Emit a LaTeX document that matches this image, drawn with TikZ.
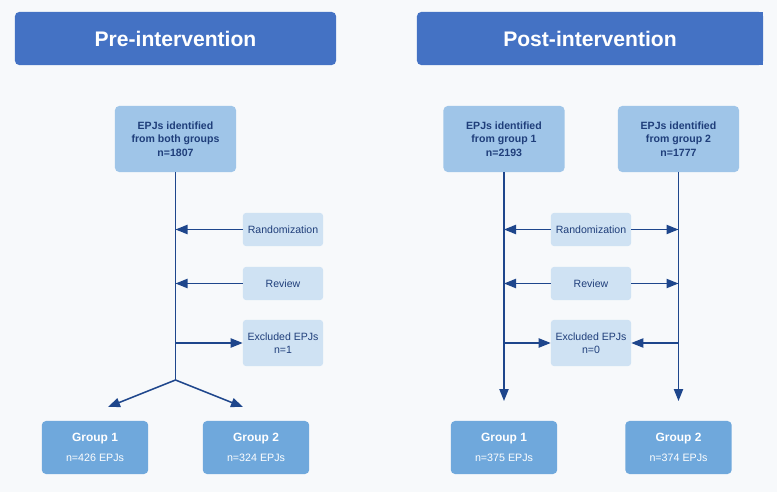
\documentclass[tikz,border=0pt]{standalone}
\usepackage{fontspec}
\setmainfont{Liberation Sans}
\usetikzlibrary{arrows.meta}
\definecolor{pagebg}{RGB}{247,249,251}
\definecolor{headblue}{RGB}{68,114,196}
\definecolor{srcblue}{RGB}{159,197,232}
\definecolor{stepblue}{RGB}{207,226,243}
\definecolor{groupblue}{RGB}{111,168,220}
\definecolor{inkblue}{RGB}{31,62,122}
\definecolor{lineblue}{RGB}{30,70,140}
\tikzset{
    headbox/.style={rectangle, rounded corners=3pt, fill=headblue, text=white, font=\fontsize{15}{18}\selectfont\bfseries, minimum height=1.325cm, inner sep=0pt, align=center},
    srcbox/.style={rectangle, rounded corners=3pt, fill=srcblue, text=inkblue, font=\fontsize{7.5}{9.6}\selectfont\bfseries, minimum width=3.025cm, minimum height=1.65cm, inner sep=0pt, align=center},
    stepbox/.style={rectangle, rounded corners=2pt, fill=stepblue, text=inkblue, font=\fontsize{7.5}{9.3}\selectfont, minimum width=2cm, minimum height=0.825cm, inner sep=0pt, align=center},
    groupbox/.style={rectangle, rounded corners=3pt, fill=groupblue, text=white, minimum width=2.66cm, minimum height=1.325cm, inner sep=0pt, align=center},
}

\begin{document}
\begin{tikzpicture}[
    x=0.025cm, y=-0.025cm,
    arrow/.style={-{Triangle[length=3mm, width=2.3mm]}, lineblue, line width=1.1pt},
    flow/.style={lineblue, line width=1.1pt}
]

% page
\fill[pagebg] (0,0) rectangle (777,492);

% Headers
\node[headbox, minimum width=8.025cm] (pre-head) at (175.5,38.5) {Pre-intervention};
\node[headbox, minimum width=8.65cm] (post-head) at (590,38.5) {};
% right side of the post header runs off square
\fill[headblue] (post-head.north) rectangle (post-head.south east);
\node[text=white, font=\fontsize{15}{18}\selectfont\bfseries, inner sep=0pt] (post-title) at (post-head.center) {Post-intervention};

% Pre-intervention boxes
\node[srcbox] (pre-src) at (175.5,139) {EPJs identified\\from both groups\\n=1807};
\node[stepbox] (pre-rand) at (283,229.5) {Randomization};
\node[stepbox] (pre-rev) at (283,283.5) {Review};
\node[stepbox, minimum height=1.15cm] (pre-excl) at (283,343) {Excluded EPJs\\n=1};
\node[groupbox] (pre-g1) at (95,447.5) {\textbf{\fontsize{8.5}{10}\selectfont Group 1}\\[2pt]{\fontsize{7.6}{10}\selectfont n=426 EPJs}};
\node[groupbox] (pre-g2) at (256,447.5) {\textbf{\fontsize{8.5}{10}\selectfont Group 2}\\[2pt]{\fontsize{7.6}{10}\selectfont n=324 EPJs}};

% Post-intervention boxes
\node[srcbox] (post-src1) at (504,139) {EPJs identified\\from group 1\\n=2193};
\node[srcbox] (post-src2) at (678.5,139) {EPJs identified\\from group 2\\n=1777};
\node[stepbox] (post-rand) at (591,229.5) {Randomization};
\node[stepbox] (post-rev) at (591,283.5) {Review};
\node[stepbox, minimum height=1.15cm] (post-excl) at (591,343) {Excluded EPJs\\n=0};
\node[groupbox] (post-g1) at (504,447.5) {\textbf{\fontsize{8.5}{10}\selectfont Group 1}\\[2pt]{\fontsize{7.6}{10}\selectfont n=375 EPJs}};
\node[groupbox] (post-g2) at (678.5,447.5) {\textbf{\fontsize{8.5}{10}\selectfont Group 2}\\[2pt]{\fontsize{7.6}{10}\selectfont n=374 EPJs}};

% Pre-intervention flow
\coordinate (pre-split) at (pre-src.south |- 0,380);
\coordinate (pre-tip1) at (108,407);
\coordinate (pre-tip2) at (243,407);
\draw[flow] (pre-src.south) -- (pre-split);
\draw[arrow] (pre-rand.west) -- (pre-rand.west -| pre-src.south);
\draw[arrow] (pre-rev.west) -- (pre-rev.west -| pre-src.south);
\draw[arrow] (pre-excl.west -| pre-src.south) -- (pre-excl.west);
\draw[arrow] (pre-split) -- (pre-tip1);
\draw[arrow] (pre-split) -- (pre-tip2);

% Post-intervention flow
\draw[arrow] (post-src1.south) -- ([yshift=14]post-g1.north);
\draw[arrow] (post-src2.south) -- ([yshift=14]post-g2.north);
\draw[arrow] (post-rand.west) -- (post-rand.west -| post-src1.south);
\draw[arrow] (post-rand.east) -- (post-rand.east -| post-src2.south);
\draw[arrow] (post-rev.west) -- (post-rev.west -| post-src1.south);
\draw[arrow] (post-rev.east) -- (post-rev.east -| post-src2.south);
\draw[arrow] (post-excl.west -| post-src1.south) -- (post-excl.west);
\draw[arrow] (post-excl.east -| post-src2.south) -- (post-excl.east);

\end{tikzpicture}
\end{document}
